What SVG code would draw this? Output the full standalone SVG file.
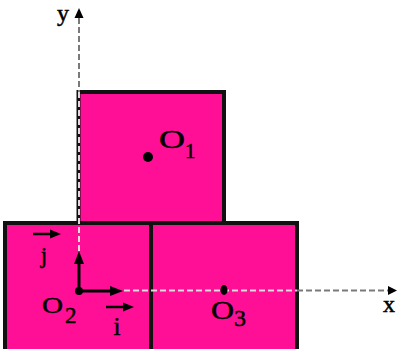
<svg xmlns="http://www.w3.org/2000/svg" width="397" height="349" viewBox="0 0 397 349">
<style>
.sq{fill:#FF0F96;stroke:#111;stroke-width:4}
.lbl{font-family:"Liberation Serif","Times New Roman",serif;fill:#000;stroke:#000;stroke-width:0.5}
.axd{fill:none;stroke:#7a7a7a;stroke-width:2;stroke-dasharray:6 3}
.axl{fill:none;stroke:#dcdcdc;stroke-width:2;stroke-dasharray:6 3}
.vec{stroke:#000;stroke-width:3;fill:none}
.uv{stroke:#000;stroke-width:2.5;fill:none}
.head{fill:#000}
</style>
<rect width="397" height="349" fill="#fff"/>
<g id="square-top">
<rect class="sq" x="78.5" y="92" width="145.5" height="131"/>
</g>
<g id="square-bottom-left">
<rect class="sq" x="5" y="223" width="146" height="140"/>
</g>
<g id="square-bottom-right">
<rect class="sq" x="151" y="223" width="146" height="140"/>
</g>
<g id="connectors">
<line class="axd" x1="79" y1="18" x2="79" y2="92"/>
<line class="axl" x1="79" y1="92" x2="79" y2="251"/>
<polygon class="head" points="79,8 74.5,18 83.5,18"/>
<line class="axl" x1="124" y1="290.5" x2="297" y2="290.5"/>
<line class="axd" x1="297" y1="290.5" x2="389" y2="290.5"/>
<polygon class="head" points="397,290.5 388,286 388,295"/>
<line class="vec" x1="79" y1="291" x2="79" y2="262"/>
<polygon class="head" points="79,251 74,264 84,264"/>
<line class="vec" x1="79" y1="291" x2="112" y2="291"/>
<polygon class="head" points="123,291 110,286 110,296"/>
<line class="uv" x1="33" y1="234" x2="52" y2="234"/>
<polygon class="head" points="61,234 50,229.5 50,238.5"/>
<line class="uv" x1="106" y1="307" x2="125" y2="307"/>
<polygon class="head" points="134,307 123,302.5 123,311.5"/>
</g>
<g id="O1">
<circle cx="148" cy="157" r="5" fill="#000"/>
<text class="lbl" x="159" y="148" font-size="26" textLength="26" lengthAdjust="spacingAndGlyphs">O</text>
<text class="lbl" x="185" y="158" font-size="21">1</text>
</g>
<g id="O2">
<circle cx="79" cy="291" r="4" fill="#000"/>
<text class="lbl" x="42" y="313" font-size="24" textLength="21" lengthAdjust="spacingAndGlyphs">O</text>
<text class="lbl" x="65" y="323" font-size="23">2</text>
</g>
<g id="O3">
<ellipse cx="224" cy="290" rx="3.5" ry="5" fill="#000"/>
<text class="lbl" x="211" y="319" font-size="25" textLength="23" lengthAdjust="spacingAndGlyphs">O</text>
<text class="lbl" x="234" y="326" font-size="24">3</text>
</g>
<g id="labels">
<text class="lbl" x="63" y="21" font-size="24" text-anchor="middle">y</text>
<text class="lbl" x="389" y="312" font-size="24" text-anchor="middle">x</text>
<text class="lbl" x="44" y="263" font-size="23" text-anchor="middle">j</text>
<text class="lbl" x="117" y="335" font-size="25" text-anchor="middle">i</text>
</g>
</svg>
